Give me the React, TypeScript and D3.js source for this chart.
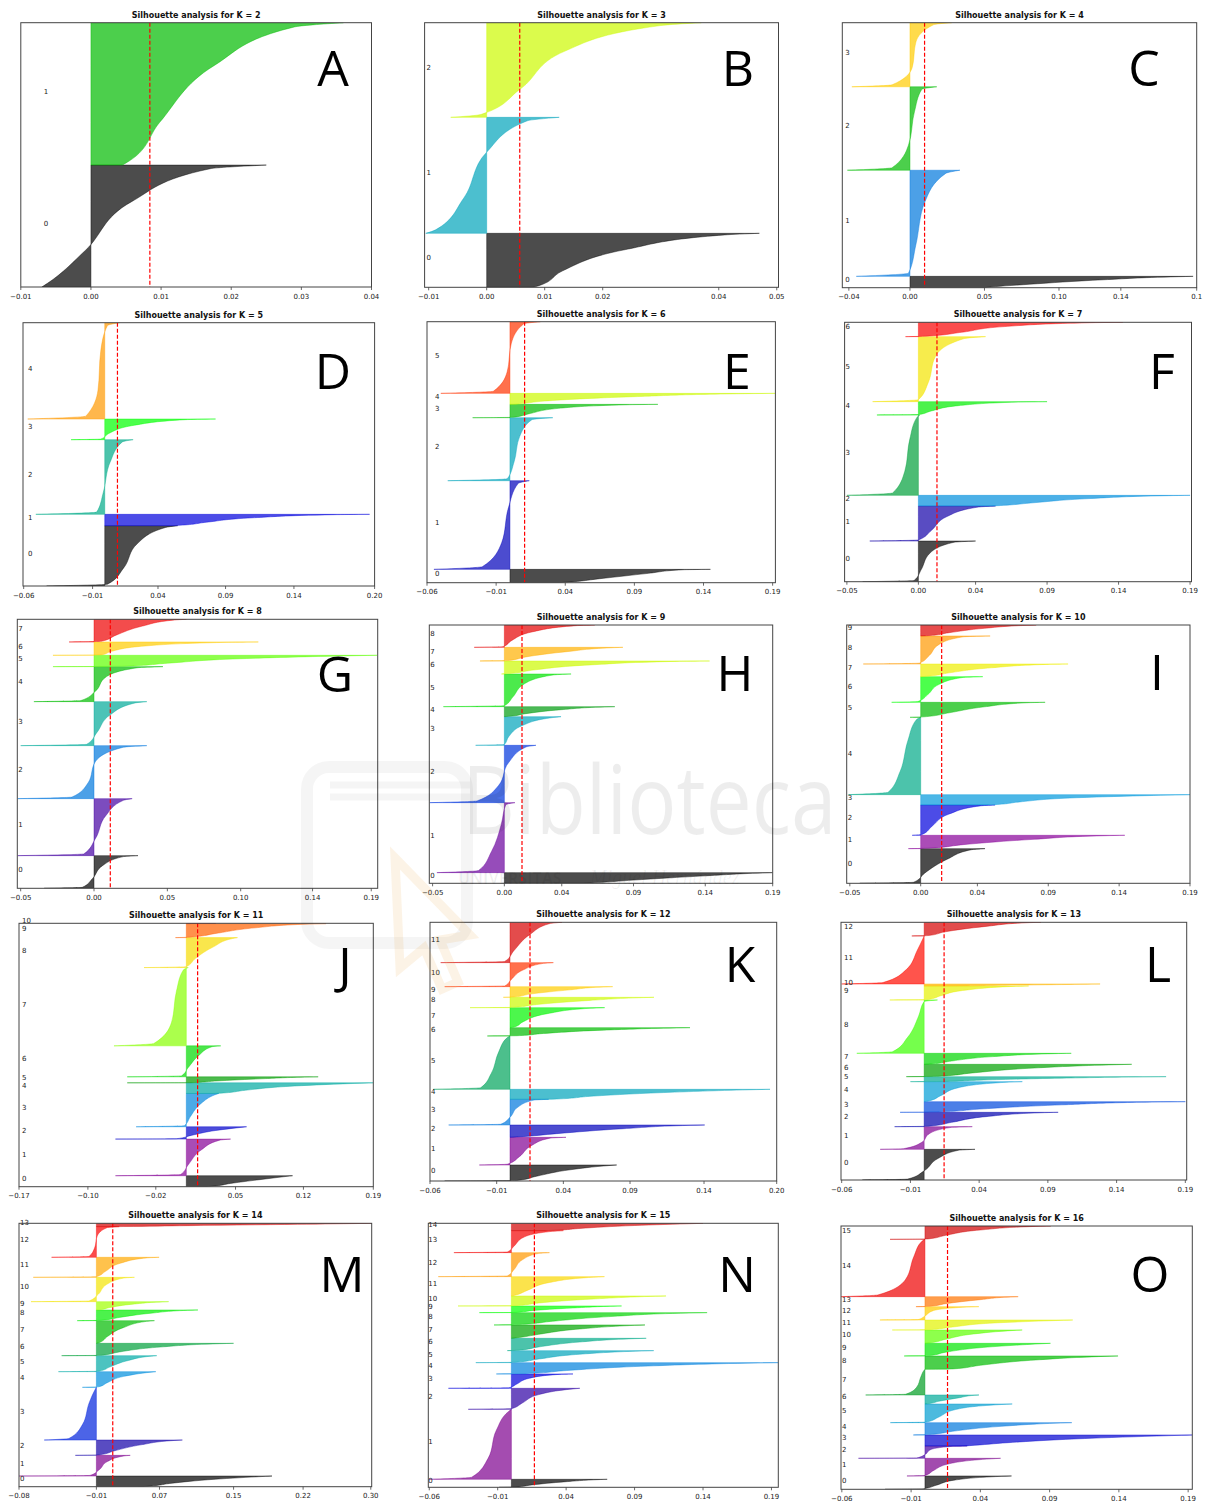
import * as React from "react";
import * as d3 from "d3";

// one panel per K
const kValues = [2, 3, 4, 5, 6, 7, 8, 9, 10, 11, 12, 13, 14, 15, 16];
const panelLetters = ["A", "B", "C", "D", "E", "F", "G", "H", "I", "J", "K", "L", "M", "N", "O"];

const xDomains = [
  [-0.01, 0.04], [-0.0107, 0.0503], [-0.0454, 0.1924],
  [-0.0605, 0.1997], [-0.06, 0.192], [-0.0516, 0.191],
  [-0.0523, 0.1934], [-0.0523, 0.187], [-0.0522, 0.19],
  [-0.17, 0.19], [-0.06, 0.2], [-0.0605, 0.191],
  [-0.0846, 0.301], [-0.0607, 0.195], [-0.0606, 0.193],
];

const tickValues = [
  [-0.01, 0, 0.01, 0.02, 0.03, 0.04],
  [-0.01, 0, 0.01, 0.02, 0.04, 0.05],
  [-0.041, 0, 0.05, 0.1, 0.1415, 0.1924],
  [-0.06, -0.009, 0.0394, 0.0894, 0.14, 0.1997],
  [-0.06, -0.01, 0.04, 0.09, 0.14, 0.19],
  [-0.05, 0, 0.04, 0.09, 0.14, 0.19],
  [-0.05, 0, 0.05, 0.1, 0.149, 0.189],
  [-0.05, 0, 0.04, 0.09, 0.14, 0.187],
  [-0.05, 0, 0.04, 0.09, 0.14, 0.19],
  [-0.17, -0.1, -0.031, 0.05, 0.119, 0.19],
  [-0.06, -0.01, 0.04, 0.09, 0.1455, 0.2],
  [-0.06, -0.01, 0.04, 0.09, 0.14, 0.19],
  [-0.0846, 0.0, 0.069, 0.15, 0.226, 0.3],
  [-0.06, -0.01, 0.04, 0.09, 0.14, 0.19],
  [-0.06, -0.01, 0.04, 0.09, 0.14, 0.19],
];

const tickLabels = [
  ["−0.01", "0.00", "0.01", "0.02", "0.03", "0.04"],
  ["−0.01", "0.00", "0.01", "0.02", "0.04", "0.05"],
  ["−0.04", "0.00", "0.05", "0.10", "0.14", "0.1"],
  ["−0.06", "−0.01", "0.04", "0.09", "0.14", "0.20"],
  ["−0.06", "−0.01", "0.04", "0.09", "0.14", "0.19"],
  ["−0.05", "0.00", "0.04", "0.09", "0.14", "0.19"],
  ["−0.05", "0.00", "0.05", "0.10", "0.14", "0.19"],
  ["−0.05", "0.00", "0.04", "0.09", "0.14", "0.19"],
  ["−0.05", "0.00", "0.04", "0.09", "0.14", "0.19"],
  ["−0.17", "−0.10", "−0.02", "0.05", "0.12", "0.19"],
  ["−0.06", "−0.01", "0.04", "0.09", "0.14", "0.20"],
  ["−0.06", "−0.01", "0.04", "0.09", "0.14", "0.19"],
  ["−0.08", "−0.01", "0.07", "0.15", "0.22", "0.30"],
  ["−0.06", "−0.01", "0.04", "0.09", "0.14", "0.19"],
  ["−0.06", "−0.01", "0.04", "0.09", "0.14", "0.19"],
];

// average silhouette score (red dashed line)
const avgScores = [0.0084, 0.0057, 0.0098, 0.0094, 0.0106, 0.013, 0.0111, 0.0123, 0.0148, 0.0115, 0.015, 0.0145, 0.0179, 0.0168, 0.0163];

// relative cluster sizes, cluster 0 first (bottom)
const clusterSizes = [
  [364, 425],
  [162, 348, 284],
  [34, 318, 250, 192],
  [181, 34, 224, 62, 289],
  [40, 266, 189, 40, 33, 215],
  [122, 105, 32, 241, 40, 195, 43],
  [98, 171, 159, 132, 105, 34, 40, 68],
  [32, 210, 172, 86, 30, 98, 39, 41, 67],
  [104, 40, 91, 31, 232, 45, 77, 38, 84, 33],
  [33, 110, 37, 100, 32, 18, 93, 235, 90, 42, 1],
  [48, 83, 37, 77, 30, 160, 25, 60, 31, 32, 72, 121],
  [92, 68, 43, 32, 60, 15, 37, 33, 160, 42, 6, 144, 41],
  [32, 62, 46, 158, 47, 48, 37, 68, 32, 25, 73, 60, 92, 10],
  [24, 210, 63, 43, 34, 36, 37, 40, 37, 20, 30, 58, 72, 66, 22],
  [40, 53, 37, 33, 37, 56, 27, 77, 40, 38, 40, 30, 40, 30, 172, 40],
];

// sorted silhouette values of each cluster read at these fractions of its height
const profileFractions = [0, 0.03, 0.3, 0.7, 0.97, 1];

const silK2 = [
  [-0.007, -0.0062, -0.0008, 0.0058, 0.017, 0.025],
  [0.0045, 0.0055, 0.0098, 0.0176, 0.029, 0.036],
];
const silK3 = [
  [0.008, 0.009, 0.013, 0.024, 0.041, 0.047],
  [-0.0105, -0.0088, -0.004, 0.0, 0.007, 0.0125],
  [-0.0062, -0.001, 0.0058, 0.0135, 0.03, 0.037],
];
const silK4 = [
  [0.05, 0.052, 0.08, 0.13, 0.18, 0.19],
  [-0.036, -0.001, 0.004, 0.01, 0.024, 0.0335],
  [-0.042, -0.012, -0.001, 0.003, 0.008, 0.018],
  [-0.039, -0.012, 0.0015, 0.004, 0.016, 0.028],
];
const silK5 = [
  [-0.043, 0.002, 0.014, 0.024, 0.045, 0.054],
  [0.05, 0.055, 0.075, 0.11, 0.17, 0.196],
  [-0.051, -0.006, -0.001, 0.004, 0.013, 0.021],
  [-0.025, -0.003, 0.003, 0.022, 0.06, 0.082],
  [-0.057, -0.014, -0.005, -0.003, 0.002, 0.011],
];
const silK6 = [
  [0.035, 0.04, 0.065, 0.1, 0.125, 0.145],
  [-0.055, -0.02, -0.006, -0.001, 0.006, 0.014],
  [-0.045, -0.002, 0.003, 0.007, 0.016, 0.031],
  [-0.027, 0.002, 0.014, 0.035, 0.085, 0.107],
  [0.003, 0.006, 0.025, 0.09, 0.17, 0.192],
  [-0.05, -0.012, -0.002, 0.001, 0.01, 0.022],
];
const silK7 = [
  [-0.039, -0.003, 0.002, 0.008, 0.025, 0.04],
  [-0.034, 0.0, 0.009, 0.02, 0.042, 0.054],
  [0.05, 0.055, 0.08, 0.12, 0.175, 0.19],
  [-0.05, -0.018, -0.0095, -0.006, -0.001, 0.001],
  [-0.029, 0.0, 0.009, 0.028, 0.07, 0.09],
  [-0.032, 0.0, 0.007, 0.012, 0.032, 0.047],
  [-0.009, 0.005, 0.03, 0.06, 0.12, 0.143],
];
const silK8 = [
  [-0.034, -0.008, -0.001, 0.006, 0.02, 0.03],
  [-0.052, -0.007, 0.001, 0.008, 0.02, 0.026],
  [-0.052, -0.015, -0.004, 0.001, 0.02, 0.036],
  [-0.05, -0.005, 0.002, 0.011, 0.028, 0.036],
  [-0.041, -0.009, 0.001, 0.008, 0.03, 0.047],
  [-0.028, 0.02, 0.05, 0.1, 0.18, 0.193],
  [-0.028, 0.005, 0.012, 0.035, 0.09, 0.112],
  [-0.017, 0.005, 0.015, 0.033, 0.055, 0.063],
];
const silK9 = [
  [0.055, 0.06, 0.09, 0.14, 0.18, 0.187],
  [-0.047, -0.018, -0.009, -0.002, 0.001, 0.0074],
  [-0.052, -0.019, -0.004, 0.003, 0.015, 0.022],
  [-0.02, 0.0, 0.003, 0.013, 0.034, 0.0395],
  [0.0, 0.003, 0.015, 0.04, 0.07, 0.077],
  [-0.0425, 0.0, 0.006, 0.014, 0.034, 0.0465],
  [-0.002, 0.003, 0.02, 0.06, 0.12, 0.143],
  [-0.017, 0.002, 0.015, 0.045, 0.075, 0.0826],
  [-0.021, -0.001, 0.005, 0.02, 0.05, 0.063],
];
const silK10 = [
  [-0.043, -0.005, 0.003, 0.019, 0.036, 0.0454],
  [-0.0087, 0.005, 0.03, 0.08, 0.13, 0.144],
  [-0.006, 0.001, 0.008, 0.02, 0.042, 0.0525],
  [0.04, 0.052, 0.07, 0.11, 0.18, 0.19],
  [-0.051, -0.023, -0.0145, -0.009, -0.003, 0.0],
  [-0.0075, 0.002, 0.02, 0.045, 0.075, 0.0878],
  [-0.0205, -0.002, 0.005, 0.013, 0.03, 0.0438],
  [0.0, 0.005, 0.02, 0.05, 0.09, 0.104],
  [-0.0405, -0.001, 0.006, 0.013, 0.03, 0.049],
  [0.0, 0.005, 0.02, 0.045, 0.075, 0.0815],
];
const silK11 = [
  [0.02, 0.025, 0.045, 0.08, 0.105, 0.108],
  [-0.072, -0.006, 0.002, 0.015, 0.034, 0.045],
  [-0.072, -0.01, 0.005, 0.03, 0.058, 0.0613],
  [-0.051, -0.002, 0.004, 0.015, 0.03, 0.033],
  [0.028, 0.035, 0.06, 0.11, 0.18, 0.19],
  [-0.06, 0.005, 0.03, 0.08, 0.125, 0.134],
  [-0.06, -0.005, 0.002, 0.013, 0.026, 0.035],
  [-0.0735, -0.033, -0.015, -0.01, -0.003, 0.002],
  [-0.043, 0.0, 0.009, 0.028, 0.047, 0.052],
  [-0.011, 0.003, 0.03, 0.07, 0.125, 0.142],
  [0.0, 0.002, 0.005, 0.01, 0.02, 0.03],
];
const silK12 = [
  [-0.049, 0.005, 0.02, 0.045, 0.075, 0.08],
  [-0.023, -0.002, 0.007, 0.016, 0.03, 0.042],
  [0.0, 0.005, 0.035, 0.085, 0.135, 0.146],
  [-0.046, -0.007, 0.0, 0.006, 0.018, 0.029],
  [0.029, 0.035, 0.06, 0.12, 0.185, 0.195],
  [-0.0575, -0.022, -0.014, -0.0085, -0.002, 0.0],
  [-0.017, 0.005, 0.025, 0.07, 0.125, 0.135],
  [0.0, 0.003, 0.01, 0.028, 0.06, 0.071],
  [-0.03, 0.003, 0.02, 0.06, 0.1, 0.108],
  [-0.005, 0.003, 0.015, 0.045, 0.07, 0.077],
  [-0.049, -0.004, 0.001, 0.01, 0.025, 0.0325],
  [-0.052, -0.004, 0.003, 0.015, 0.03, 0.039],
];
const silK13 = [
  [-0.045, -0.012, 0.0, 0.01, 0.025, 0.037],
  [-0.032, -0.015, -0.002, 0.004, 0.02, 0.035],
  [-0.0215, 0.003, 0.02, 0.045, 0.085, 0.0975],
  [-0.0175, 0.01, 0.04, 0.1, 0.17, 0.19],
  [0.0, 0.003, 0.012, 0.025, 0.06, 0.0714],
  [-0.01, 0.01, 0.04, 0.1, 0.165, 0.176],
  [-0.013, 0.01, 0.035, 0.08, 0.14, 0.151],
  [0.0, 0.005, 0.02, 0.05, 0.095, 0.107],
  [-0.049, -0.023, -0.012, -0.004, 0.0, 0.0097],
  [-0.025, 0.003, 0.012, 0.03, 0.065, 0.076],
  [0.0, 0.02, 0.05, 0.1, 0.125, 0.128],
  [-0.06, -0.03, -0.013, -0.005, -0.0005, 0.0],
  [-0.009, 0.003, 0.015, 0.045, 0.075, 0.085],
];
const silK14 = [
  [0.045, 0.055, 0.08, 0.13, 0.185, 0.192],
  [-0.0846, -0.007, 0.003, 0.012, 0.03, 0.037],
  [-0.023, 0.003, 0.02, 0.05, 0.085, 0.094],
  [-0.057, -0.03, -0.015, -0.008, -0.001, 0.0],
  [-0.0153, 0.002, 0.012, 0.03, 0.06, 0.065],
  [-0.0415, 0.003, 0.015, 0.035, 0.06, 0.066],
  [-0.038, 0.005, 0.025, 0.07, 0.135, 0.15],
  [0.0, 0.003, 0.012, 0.03, 0.055, 0.0635],
  [-0.021, 0.005, 0.025, 0.06, 0.1, 0.111],
  [0.0, 0.003, 0.015, 0.04, 0.072, 0.079],
  [-0.0715, -0.008, 0.002, 0.011, 0.03, 0.0416],
  [-0.069, 0.0, 0.01, 0.026, 0.055, 0.0686],
  [-0.049, -0.008, -0.002, 0.001, 0.012, 0.025],
  [0.02, 0.03, 0.1, 0.22, 0.295, 0.301],
];
const silK15 = [
  [-0.009, 0.003, 0.015, 0.04, 0.065, 0.07],
  [-0.06, -0.029, -0.017, -0.011, -0.002, 0.0],
  [-0.0315, 0.0, 0.008, 0.02, 0.045, 0.05],
  [-0.046, -0.002, 0.004, 0.013, 0.035, 0.045],
  [-0.011, 0.01, 0.04, 0.1, 0.18, 0.195],
  [-0.026, 0.003, 0.02, 0.05, 0.095, 0.104],
  [-0.003, 0.005, 0.02, 0.05, 0.09, 0.0985],
  [0.0, 0.003, 0.02, 0.05, 0.09, 0.0976],
  [-0.0127, 0.005, 0.03, 0.075, 0.13, 0.143],
  [-0.0234, 0.003, 0.015, 0.045, 0.075, 0.0805],
  [-0.039, 0.003, 0.02, 0.06, 0.105, 0.113],
  [0.0, 0.002, 0.012, 0.028, 0.06, 0.068],
  [-0.0534, -0.003, 0.002, 0.008, 0.02, 0.0278],
  [-0.042, -0.003, 0.002, 0.009, 0.03, 0.038],
  [0.02, 0.03, 0.05, 0.09, 0.135, 0.14],
];
const silK16 = [
  [-0.0288, -0.002, 0.008, 0.022, 0.055, 0.0625],
  [-0.013, 0.0, 0.006, 0.018, 0.048, 0.0546],
  [-0.048, -0.006, 0.0, 0.004, 0.02, 0.0305],
  [0.028, 0.032, 0.06, 0.12, 0.185, 0.193],
  [-0.0084, 0.003, 0.02, 0.055, 0.098, 0.106],
  [-0.025, 0.001, 0.01, 0.022, 0.055, 0.063],
  [0.0, 0.002, 0.01, 0.025, 0.036, 0.039],
  [-0.0428, -0.014, -0.006, -0.003, -0.0005, 0.0],
  [0.005, 0.02, 0.04, 0.08, 0.13, 0.1394],
  [-0.015, 0.003, 0.015, 0.045, 0.085, 0.0906],
  [0.0, 0.003, 0.015, 0.035, 0.065, 0.0702],
  [-0.0236, 0.003, 0.02, 0.05, 0.1, 0.1067],
  [-0.0325, -0.005, 0.0, 0.006, 0.03, 0.0389],
  [-0.0065, 0.003, 0.015, 0.04, 0.062, 0.0673],
  [-0.0606, -0.034, -0.014, -0.008, -0.002, 0.0],
  [-0.0252, 0.002, 0.015, 0.04, 0.08, 0.0909],
];

const silhouettes = [silK2, silK3, silK4, silK5, silK6, silK7, silK8, silK9, silK10, silK11, silK12, silK13, silK14, silK15, silK16];

// layout of the composite: axes box [x0, y0, x1, y1], letter [cx, baseline], label inset
const axesBoxes = [
  [20.8, 22.7, 371.5, 287], [424.6, 22.7, 778.5, 287.3], [842.3, 22.7, 1196.7, 287.7],
  [23, 322.7, 374.6, 586], [427, 321.7, 775.4, 582.7], [844.6, 322.3, 1191.5, 581.7],
  [17.3, 619.3, 377.7, 888.3], [429.3, 625, 772.7, 883.3], [846.7, 625, 1190, 883.3],
  [19, 923.3, 373.3, 1186.7], [430, 922.3, 776.7, 1181], [841, 922.3, 1186.7, 1180],
  [19, 1223.3, 371.7, 1486.7], [428.3, 1223.3, 778.3, 1487.3], [841, 1226, 1192.3, 1489.3],
];
const letterAnchors = [
  [333, 86], [738, 86], [1144, 86],
  [333, 389], [737, 389], [1162, 389],
  [335, 692], [735, 691], [1157, 690],
  [345, 983], [740, 982], [1158, 982],
  [342, 1292], [737, 1292], [1150, 1292],
];
const labelInset = [23, 2, 3, 5, 8, 1, 1, 1, 1, 3, 1, 3, 1, 0, 1];

// matplotlib nipy_spectral
const nipyStops = [
  "#000000", "#770088", "#880099", "#0000aa", "#0000dd", "#0077dd", "#0099dd",
  "#00aaaa", "#00aa88", "#009900", "#00bb00", "#00dd00", "#00ff00", "#bbff00",
  "#eeee00", "#ffcc00", "#ff9900", "#ff0000", "#dd0000", "#cc0000", "#cccccc",
];
const nipy = d3
  .scaleLinear<string>()
  .domain(nipyStops.map((_, i) => i / 20))
  .range(nipyStops);

const FONT = "DejaVu Sans, sans-serif";

function Panel({ p }: { p: number }) {
  const [x0, y0, x1, y1] = axesBoxes[p];
  const k = kValues[p];
  const sizes = clusterSizes[p];
  const total = d3.sum(sizes);
  const starts = [0, ...Array.from(d3.cumsum(sizes))];

  const x = d3.scaleLinear().domain(xDomains[p]).range([x0, x1]);
  const y = d3.scaleLinear().domain([0, total]).range([y1, y0]);
  const clipId = `clip-${p}`;

  return (
    <g>
      <defs>
        <clipPath id={clipId}>
          <rect x={x0} y={y0} width={x1 - x0} height={y1 - y0} />
        </clipPath>
      </defs>

      <g clipPath={`url(#${clipId})`}>
        {silhouettes[p].map((prof, c) => {
          const start = starts[c];
          const size = sizes[c];
          const pts = profileFractions.map((f, j) => ({ f, v: prof[j] }));
          const area = d3
            .area<{ f: number; v: number }>()
            .curve(d3.curveMonotoneY)
            .y((d) => y(start + d.f * size))
            .x0(x(0))
            .x1((d) => x(d.v));
          const col = nipy(c / k);
          return (
            <path
              key={c}
              d={area(pts) || ""}
              fill={col}
              fillOpacity={0.7}
              stroke={col}
              strokeOpacity={0.7}
              strokeWidth={0.6}
            />
          );
        })}
        <line
          x1={x(avgScores[p])}
          x2={x(avgScores[p])}
          y1={y0}
          y2={y1}
          stroke="red"
          strokeWidth={1.2}
          strokeDasharray="4,2"
        />
      </g>

      {sizes.map((s, c) => (
        <text
          key={c}
          x={x0 + labelInset[p]}
          y={y(starts[c] + s / 2)}
          fontFamily={FONT}
          fontSize={7}
          fill="#222"
        >
          {c}
        </text>
      ))}

      <rect x={x0} y={y0} width={x1 - x0} height={y1 - y0} fill="none" stroke="#444" strokeWidth={1} />

      {tickValues[p].map((t, j) => (
        <g key={j} transform={`translate(${x(t)},${y1})`}>
          <line y2={3} stroke="#444" strokeWidth={0.8} />
          <text y={11.5} textAnchor="middle" fontFamily={FONT} fontSize={7} fill="#222">
            {tickLabels[p][j]}
          </text>
        </g>
      ))}

      <text
        x={(x0 + x1) / 2}
        y={y0 - 5}
        textAnchor="middle"
        fontFamily={FONT}
        fontWeight="bold"
        fontSize={8}
        fill="#111"
      >
        {`Silhouette analysis for K = ${k}`}
      </text>

      <text
        x={letterAnchors[p][0]}
        y={letterAnchors[p][1]}
        textAnchor="middle"
        fontFamily="Open Sans, sans-serif"
        fontSize={50}
        fill="#000"
      >
        {panelLetters[p]}
      </text>
    </g>
  );
}

function Watermark() {
  return (
    <g pointerEvents="none">
      <rect x={307} y={767} width={160} height={176} rx={22} fill="none" stroke="#000" strokeOpacity={0.04} strokeWidth={12} />
      <line x1={330} x2={470} y1={785} y2={785} stroke="#000" strokeOpacity={0.04} strokeWidth={7} />
      <line x1={330} x2={470} y1={797} y2={797} stroke="#000" strokeOpacity={0.04} strokeWidth={7} />
      <path
        d="M395,858 L470,935 L440,940 L458,982 L442,989 L424,948 L400,968 Z"
        fill="none"
        stroke="#e8a33d"
        strokeOpacity={0.13}
        strokeWidth={9}
      />
      <g transform="translate(462,834) scale(1,1.15)">
        <text x={0} y={0} fontFamily="Open Sans, sans-serif" fontSize={82} fill="#000" fillOpacity={0.07}>
          Biblioteca
        </text>
      </g>
      <text x={458} y={884} fontFamily="Open Sans, sans-serif" fontWeight="bold" fontSize={16} fill="#000" fillOpacity={0.06}>
        UNIVERSITAS
      </text>
      <text x={590} y={884} fontFamily="Liberation Serif, serif" fontStyle="italic" fontSize={20} fill="#000" fillOpacity={0.06}>
        Miguel Hernández
      </text>
    </g>
  );
}

export default function App() {
  return (
    <svg
      width={1206}
      height={1503}
      style={{ position: "absolute", left: 0, top: 0, background: "#fff" }}
    >
      {kValues.map((_, p) => (
        <Panel key={p} p={p} />
      ))}
      <Watermark />
    </svg>
  );
}
